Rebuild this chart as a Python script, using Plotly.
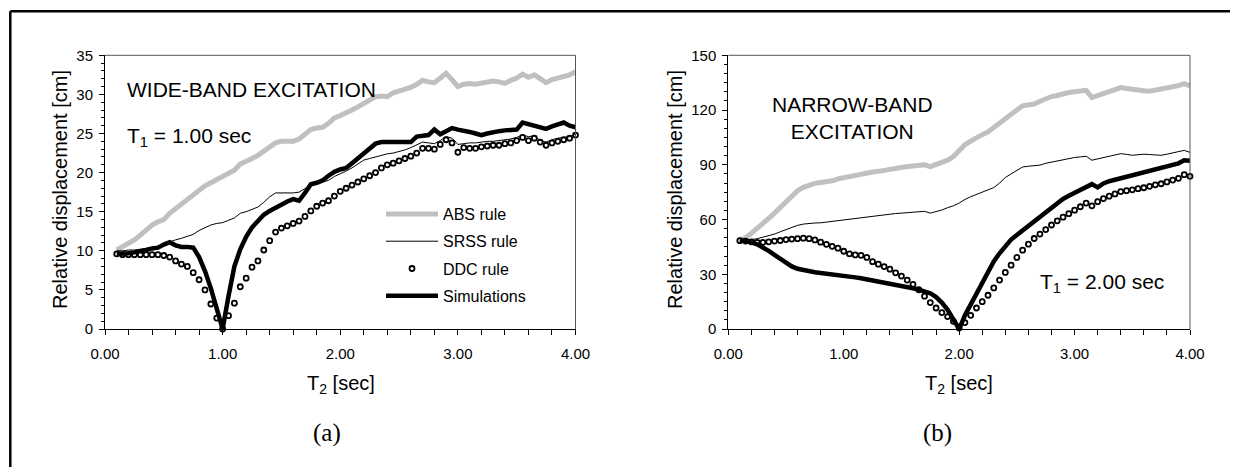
import plotly.graph_objects as go

# ---------------- data ----------------
T2 = [0.10, 0.15, 0.20, 0.25, 0.30, 0.35, 0.40, 0.45, 0.50, 0.55,
      0.60, 0.65, 0.70, 0.75, 0.80, 0.85, 0.90, 0.95, 1.00, 1.05,
      1.10, 1.15, 1.20, 1.25, 1.30, 1.35, 1.40, 1.45, 1.50, 1.55,
      1.60, 1.65, 1.70, 1.75, 1.80, 1.85, 1.90, 1.95, 2.00, 2.05,
      2.10, 2.15, 2.20, 2.25, 2.30, 2.35, 2.40, 2.45, 2.50, 2.55,
      2.60, 2.65, 2.70, 2.75, 2.80, 2.85, 2.90, 2.95, 3.00, 3.05,
      3.10, 3.15, 3.20, 3.25, 3.30, 3.35, 3.40, 3.45, 3.50, 3.55,
      3.60, 3.65, 3.70, 3.75, 3.80, 3.85, 3.90, 3.95, 4.00]

# (a) wide-band excitation, T1 = 1.00 sec
abs_a = [10.1, 10.5, 10.9, 11.4, 12.0, 12.7, 13.3, 13.7, 14.0, 14.8,
         15.4, 15.9, 16.4, 17.0, 17.7, 18.3, 18.7, 19.1, 19.5, 19.8,
         20.3, 21.1, 21.4, 21.8, 22.2, 22.7, 23.2, 23.8, 24.0, 24.0,
         24.0, 24.3, 25.0, 25.5, 25.7, 25.8, 26.3, 27.0, 27.3, 27.6,
         28.0, 28.4, 28.8, 29.2, 29.7, 29.8, 29.7, 30.2, 30.4, 30.6,
         30.9, 31.3, 31.8, 31.6, 31.5, 32.1, 32.7, 31.9, 31.0, 31.3,
         31.4, 31.3, 31.4, 31.6, 31.7, 31.6, 31.4, 31.8, 32.1, 32.6,
         32.2, 32.5, 32.0, 31.5, 31.9, 32.1, 32.3, 32.5, 32.9]
srss_a = [10.0, 10.0, 10.1, 10.1, 10.2, 10.3, 10.4, 10.6, 10.9, 11.1,
          11.4, 11.6, 11.8, 12.1, 12.6, 13.0, 13.3, 13.5, 13.6, 13.9,
          14.2, 14.8, 15.0, 15.3, 15.6, 16.2, 16.9, 17.4, 17.4, 17.4,
          17.4, 17.5, 18.0, 18.4, 18.6, 18.8, 19.0, 19.5, 19.8, 20.2,
          20.6, 21.1, 21.6, 21.8, 22.0, 22.2, 22.4, 22.5, 22.7, 22.9,
          23.2, 23.5, 23.9, 23.8, 23.7, 24.1, 24.6, 24.4, 23.6, 23.7,
          23.8, 23.8, 23.9, 24.0, 24.0, 24.1, 24.2, 24.3, 24.5, 24.8,
          24.6, 24.7, 24.1, 23.9, 24.2, 24.4, 24.5, 24.6, 24.9]
ddc_a = [9.6, 9.5, 9.5, 9.5, 9.5, 9.5, 9.5, 9.5, 9.4, 9.2,
         8.7, 8.3, 8.0, 7.2, 6.3, 5.0, 3.2, 1.4, 0.0, 1.7,
         3.3, 5.4, 6.5, 7.9, 8.7, 10.1, 11.3, 12.4, 12.9, 13.2,
         13.5, 13.8, 14.4, 15.1, 15.7, 16.1, 16.4, 17.0, 17.6, 18.0,
         18.4, 18.8, 19.2, 19.6, 20.0, 20.6, 21.0, 21.2, 21.5, 21.8,
         22.1, 22.5, 23.1, 23.1, 23.0, 23.6, 24.2, 23.8, 22.6, 23.2,
         23.1, 23.1, 23.3, 23.4, 23.5, 23.5, 23.7, 23.8, 24.1, 24.5,
         24.1, 24.4, 23.9, 23.5, 23.8, 24.0, 24.2, 24.4, 24.8]
sim_a = [9.6, 9.6, 9.7, 9.8, 9.9, 10.1, 10.3, 10.4, 10.8, 11.1,
         10.7, 10.5, 10.5, 10.4, 9.2, 7.4, 5.2, 2.6, 0.0, 4.2,
         8.0, 10.2, 11.8, 13.0, 13.9, 14.6, 15.1, 15.5, 16.0, 16.3,
         16.6, 16.4, 17.4, 18.5, 18.7, 19.0, 19.6, 20.1, 20.4, 20.6,
         21.2, 21.8, 22.5, 23.1, 23.7, 23.9, 23.9, 23.9, 23.8, 23.8,
         23.9, 24.6, 24.7, 24.8, 25.5, 24.9, 25.3, 25.7, 25.5, 25.4,
         25.2, 25.0, 24.8, 25.0, 25.2, 25.3, 25.4, 25.4, 25.5, 26.4,
         26.2, 26.0, 25.8, 25.6, 25.9, 26.2, 26.4, 26.0, 25.8]

# (b) narrow-band excitation, T1 = 2.00 sec
abs_b = [48.7, 50.0, 52.5, 55.5, 58.0, 60.6, 63.5, 66.5, 70.0, 73.0,
         75.8, 77.6, 78.8, 79.8, 80.3, 80.5, 81.2, 82.3, 83.0, 83.5,
         84.2, 85.0, 85.6, 86.0, 86.4, 87.0, 87.5, 88.0, 88.5, 89.0,
         89.3, 89.8, 90.0, 89.0, 90.2, 91.0, 92.5, 94.5, 98.0, 101.0,
         103.0, 105.0, 106.5, 108.0, 110.5, 113.0, 115.8, 118.0, 120.0, 122.3,
         123.0, 123.3, 124.8, 126.2, 127.4, 128.0, 129.0, 129.6, 130.0, 130.4,
         130.8, 126.8, 128.0, 128.8, 129.8, 131.0, 132.3, 131.8, 131.2, 130.9,
         130.6, 130.3, 130.8, 131.2, 132.0, 132.8, 133.4, 134.5, 133.2]
srss_b = [48.7, 48.8, 49.0, 49.5, 50.2, 51.0, 52.0, 53.3, 54.6, 55.8,
          56.8, 57.5, 57.9, 58.1, 58.2, 58.6, 59.2, 59.6, 59.9, 60.3,
          60.6, 61.1, 61.5, 62.0, 62.3, 62.7, 63.0, 63.3, 63.5, 63.7,
          63.9, 64.2, 64.5, 63.5, 64.2, 65.2, 66.5, 67.5, 69.0, 71.0,
          72.5, 73.8, 75.0, 76.0, 77.5, 80.0, 83.0, 85.0, 87.0, 88.8,
          89.2, 89.6, 89.8, 90.8, 91.5, 92.3, 93.0, 93.6, 94.0, 94.3,
          94.7, 92.5, 93.3, 94.0, 94.8, 95.5, 96.1, 95.7, 95.2, 95.5,
          95.8, 95.6, 95.3, 95.2, 95.8, 96.5, 97.0, 97.9, 96.8]
ddc_b = [48.4, 48.2, 47.8, 47.5, 47.5, 47.8, 48.2, 48.5, 49.0, 49.3,
         49.5, 49.8, 49.5, 48.8, 47.6, 46.4, 45.3, 44.3, 42.6, 41.2,
         40.6, 40.4, 39.2, 36.9, 35.5, 34.2, 32.8, 30.8, 29.0, 26.8,
         24.5, 21.5, 18.0, 14.5, 11.5, 9.0, 6.8, 4.2, 0.5, 3.5,
         7.5, 11.5, 15.0, 18.5, 22.5, 26.8, 31.0, 35.0, 39.2, 43.2,
         46.5, 49.6, 52.0, 54.5, 57.0, 59.3, 61.3, 63.2, 65.1, 67.0,
         69.0, 67.5, 69.8, 71.5, 72.8, 74.0, 75.3, 75.8, 76.3, 76.9,
         77.4, 78.2, 79.0, 79.6, 80.6, 81.6, 82.6, 84.6, 83.7]
sim_b = [48.7, 48.3, 47.5, 46.4, 44.8, 42.8, 40.6, 38.4, 36.0, 34.3,
         33.0, 32.2, 31.6, 31.1, 30.7, 30.4, 30.0, 29.6, 29.2, 28.8,
         28.3, 27.8, 27.2, 26.8, 26.4, 25.9, 25.0, 24.2, 23.6, 23.0,
         22.3, 21.6, 20.8, 19.6, 17.5, 14.5, 10.5, 5.5, 0.0, 7.5,
         13.5, 19.5, 25.5, 31.5, 37.0, 41.5, 45.5, 49.0, 51.5, 54.0,
         56.5, 59.3, 61.8, 64.3, 66.8, 69.2, 71.3, 73.0, 74.6, 76.3,
         78.0, 79.4, 77.6, 79.8, 81.0, 81.8, 82.5, 83.5, 84.2, 84.9,
         85.6, 86.3, 87.0, 88.0, 88.9, 89.8, 90.8, 92.5, 92.2]

names = ["ABS rule", "SRSS rule", "DDC rule", "Simulations"]
x_ticks = [0, 1, 2, 3, 4]
x_ticklabels = ["0.00", "1.00", "2.00", "3.00", "4.00"]

# ---------------- figure ----------------
# page has an 8px body margin: figure is sized so the page fits the 1238x475 window
OFF = 8
W, H = 1238 - 2 * OFF, 475 - 2 * OFF
FONT = "Liberation Sans, Arial, sans-serif"
SERIF = "Liberation Serif, Times New Roman, serif"


def px(x):
    return (x - OFF) / W


def py(y):
    return 1 - (y - OFF) / H


fig = go.Figure()

panels = [
    ("x", "y", abs_a, srss_a, ddc_a, sim_a, True),
    ("x2", "y2", abs_b, srss_b, ddc_b, sim_b, False),
]
for xa, ya, a, s, d, m, show in panels:
    fig.add_trace(go.Scatter(x=T2, y=a, mode="lines", name=names[0], legendgroup="g0",
                             line=dict(color="#c0c0c0", width=5), xaxis=xa, yaxis=ya,
                             showlegend=show))
    fig.add_trace(go.Scatter(x=T2, y=s, mode="lines", name=names[1], legendgroup="g1",
                             line=dict(color="black", width=1), xaxis=xa, yaxis=ya,
                             showlegend=show))
    fig.add_trace(go.Scatter(x=T2, y=d, mode="markers", name=names[2], legendgroup="g2",
                             marker=dict(symbol="circle-open", size=5, color="black",
                                         line=dict(width=1.8, color="black")),
                             xaxis=xa, yaxis=ya, showlegend=show, cliponaxis=False))
    fig.add_trace(go.Scatter(x=T2, y=m, mode="lines", name=names[3], legendgroup="g3",
                             line=dict(color="black", width=4.5), xaxis=xa, yaxis=ya,
                             showlegend=show))

ydom = [py(329), py(55.3)]
xdom1 = [px(105), px(575.5)]
xdom2 = [px(728.3), px(1190)]

xcommon = dict(range=[0, 4], tickvals=x_ticks, ticktext=x_ticklabels, ticks="outside",
               ticklen=5, tickwidth=1, tickcolor="black", showline=True, linecolor="black",
               linewidth=1, showgrid=False, zeroline=False, automargin=False,
               tickfont=dict(family=FONT, size=15, color="black"),
               minor=dict(dtick=0.2, tick0=0, ticks="outside", ticklen=5, tickcolor="black",
                          showgrid=False),
               ticklabelstandoff=6)
ycommon = dict(ticks="outside", ticklen=5, tickwidth=1, tickcolor="black", showline=True,
               linecolor="black", linewidth=1, showgrid=False, zeroline=False,
               automargin=False,
               tickfont=dict(family=FONT, size=15, color="black"), ticklabelstandoff=3)

fig.update_layout(
    width=W, height=H,
    margin=dict(l=0, r=0, t=0, b=0, autoexpand=False),
    paper_bgcolor="white", plot_bgcolor="white",
    font=dict(family=FONT, color="black"),
    xaxis=dict(domain=xdom1, anchor="y", **xcommon),
    yaxis=dict(domain=ydom, anchor="x", range=[0, 35], dtick=5,
               minor=dict(dtick=1, ticks="outside", ticklen=3, tickcolor="black", showgrid=False),
               **ycommon),
    xaxis2=dict(domain=xdom2, anchor="y2", **xcommon),
    yaxis2=dict(domain=ydom, anchor="x2", range=[0, 150], dtick=30,
                minor=dict(dtick=5, ticks="outside", ticklen=3, tickcolor="black", showgrid=False),
                **ycommon),
    legend=dict(x=px(381), y=py(197), xanchor="left", yanchor="top",
                font=dict(family=FONT, size=16, color="black"),
                bgcolor="rgba(0,0,0,0)", tracegroupgap=3.5, itemwidth=52),
)

# plot-area frame (top & right edges grey) and outer figure frame (top & left edges)
shapes = []
for xd in (xdom1, xdom2):
    shapes.append(dict(type="line", xref="paper", yref="paper", x0=xd[0], x1=xd[1],
                       y0=ydom[1], y1=ydom[1], line=dict(color="#555555", width=1)))
    shapes.append(dict(type="line", xref="paper", yref="paper", x0=xd[1], x1=xd[1],
                       y0=ydom[0], y1=ydom[1], line=dict(color="#555555", width=1)))
shapes.append(dict(type="line", xref="paper", yref="paper", x0=px(10.3), x1=1.0,
                   y0=py(11.2), y1=py(11.2), line=dict(color="black", width=2.5)))
shapes.append(dict(type="line", xref="paper", yref="paper", x0=px(10.3), x1=px(10.3),
                   y0=0.0, y1=py(11.2), line=dict(color="black", width=2.5)))
fig.update_layout(shapes=shapes)

ann = [
    dict(text="WIDE-BAND EXCITATION", x=px(125), y=py(90), xanchor="left", yanchor="middle",
         font=dict(family=FONT, size=21)),
    dict(text="T<sub>1</sub> = 1.00 sec", x=px(125), y=py(137), xanchor="left",
         yanchor="middle", font=dict(family=FONT, size=21)),
    dict(text="NARROW-BAND<br>EXCITATION", x=px(852), y=py(118), xanchor="center",
         yanchor="middle", font=dict(family=FONT, size=21)),
    dict(text="T<sub>1</sub> = 2.00 sec", x=px(1038), y=py(283), xanchor="left",
         yanchor="middle", font=dict(family=FONT, size=21)),
    dict(text="Relative displacement [cm]", x=px(60), y=py(190), textangle=-90,
         xanchor="center", yanchor="middle", font=dict(family=FONT, size=20)),
    dict(text="Relative displacement [cm]", x=px(675), y=py(190), textangle=-90,
         xanchor="center", yanchor="middle", font=dict(family=FONT, size=20)),
    dict(text="T<sub>2</sub> [sec]", x=px(341), y=py(384), xanchor="center",
         yanchor="middle", font=dict(family=FONT, size=20)),
    dict(text="T<sub>2</sub> [sec]", x=px(959), y=py(384), xanchor="center",
         yanchor="middle", font=dict(family=FONT, size=20)),
    dict(text="(a)", x=px(327), y=py(433), xanchor="center", yanchor="middle",
         font=dict(family=SERIF, size=25)),
    dict(text="(b)", x=px(937), y=py(433), xanchor="center", yanchor="middle",
         font=dict(family=SERIF, size=25)),
]
for a in ann:
    a.update(xref="paper", yref="paper", showarrow=False)
    a["font"]["color"] = "black"
fig.update_layout(annotations=ann)

fig.write_html("out.html")
